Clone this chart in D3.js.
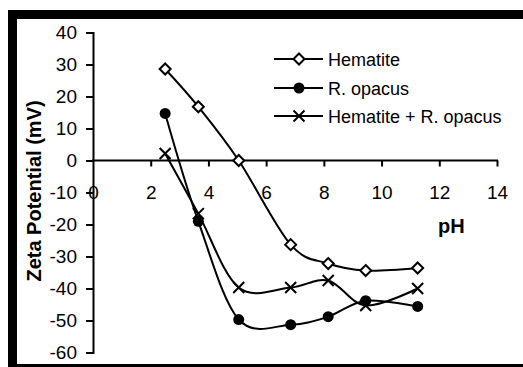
<!DOCTYPE html>
<html>
<head>
<meta charset="utf-8">
<script src="https://d3js.org/d3.v7.min.js"></script>
<style>
body, html {
    margin: 0;
    padding: 0;
    background: #fff;
    font-family: "Liberation Sans", Arial, sans-serif;
}
.axis path, .axis line {
  stroke: #000;
  stroke-width: 2;
}
.axis text {
  font-size: 19px;
  fill: #000;
}
.series {
  fill: none;
  stroke: #000;
  stroke-width: 2;
}
</style>
</head>
<body>
<div id="chart"></div>
<script>

// pH values measured
var ph = [2.5, 3.65, 5.05, 6.85, 8.15, 9.45, 11.25];
// zeta potential (mV)
var hematite = [28.6, 16.8, 0, -26.3, -32.2, -34.4, -33.6];
var opacus = [14.7, -19, -49.7, -51.3, -48.8, -43.8, -45.6];
var mixture = [2.2, -16.6, -39.7, -39.7, -37.5, -45.3, -40];
var seriesNames = ["Hematite", "R. opacus", "Hematite + R. opacus"];
var xTicks = [0, 2, 4, 6, 8, 10, 12, 14];
var yTicks = [40, 30, 20, 10, 0, -10, -20, -30, -40, -50, -60];

var width = 523,
    height = 367;

var svg = d3.select('#chart').append('svg')
  .attr('width', width)
  .attr('height', height);

// black frame (right side is cut off in the original)
svg.append('rect').attr('x', 8).attr('y', 10).attr('width', 530).attr('height', 9).attr('fill', '#000');
svg.append('rect').attr('x', 8).attr('y', 10).attr('width', 9).attr('height', 360).attr('fill', '#000');
svg.append('rect').attr('x', 8).attr('y', 364).attr('width', 530).attr('height', 10).attr('fill', '#000');

var x = d3.scaleLinear().domain([0, 14]).range([93, 497]);
var y = d3.scaleLinear().domain([-60, 40]).range([352.5, 32.5]);

var fmt = function (d) { return String(d); };   // plain hyphen minus like the original

// y axis
var yAxis = svg.append('g')
  .attr('class', 'axis')
  .attr('transform', 'translate(' + x(0) + ',0)')
  .call(d3.axisLeft(y).tickValues(yTicks).tickFormat(fmt).tickSize(7).tickPadding(9).tickSizeOuter(0));

// x axis through zero
var xAxis = svg.append('g')
  .attr('class', 'axis')
  .attr('transform', 'translate(0,' + y(0) + ')')
  .call(d3.axisBottom(x).tickValues(xTicks).tickFormat(fmt).tickSize(6).tickPadding(19).tickSizeOuter(0));
xAxis.selectAll('.tick').filter(function (d) { return d === 0; }).select('line').remove();
xAxis.selectAll('.domain').attr('d', 'M' + x(0) + ',0H' + x(14));

svg.selectAll('.axis .domain').attr('stroke-linecap', 'square');

// axis titles
svg.append('text')
  .attr('transform', 'translate(41,' + 191 + ') rotate(-90)')
  .attr('text-anchor', 'middle')
  .style('font-size', '20px')
  .style('font-weight', 'bold')
  .text('Zeta Potential (mV)');

svg.append('text')
  .attr('x', 438)
  .attr('y', 233)
  .style('font-size', '20px')
  .style('font-weight', 'bold')
  .text('pH');

var line = d3.line()
  .x(function (d) { return x(d[0]); })
  .y(function (d) { return y(d[1]); })
  .curve(d3.curveCardinal.tension(0));

function pts(vals) {
  return ph.map(function (p, i) { return [p, vals[i]]; });
}

var data = [pts(hematite), pts(opacus), pts(mixture)];

function marker(g, kind, cx, cy) {
  if (kind === 0) {
    var s = 5.5;
    g.append('path')
      .attr('d', 'M' + cx + ',' + (cy - s) + 'L' + (cx + s) + ',' + cy + 'L' + cx + ',' + (cy + s) + 'L' + (cx - s) + ',' + cy + 'Z')
      .attr('fill', '#fff').attr('stroke', '#000').attr('stroke-width', 2);
  } else if (kind === 1) {
    g.append('circle').attr('cx', cx).attr('cy', cy).attr('r', 5.5).attr('fill', '#000');
  } else {
    var h = 5.5;
    g.append('path')
      .attr('d', 'M' + (cx - h) + ',' + (cy - h) + 'L' + (cx + h) + ',' + (cy + h) + 'M' + (cx - h) + ',' + (cy + h) + 'L' + (cx + h) + ',' + (cy - h))
      .attr('stroke', '#000').attr('stroke-width', 2);
  }
}

data.forEach(function (d, k) {
  svg.append('path').datum(d).attr('class', 'series').attr('d', line);
  var g = svg.append('g');
  d.forEach(function (p) { marker(g, k, x(p[0]), y(p[1])); });
});

// legend
var legendY = [59, 88, 116];
seriesNames.forEach(function (name, k) {
  var g = svg.append('g');
  g.append('line')
    .attr('x1', 274).attr('x2', 323)
    .attr('y1', legendY[k]).attr('y2', legendY[k])
    .attr('stroke', '#000').attr('stroke-width', 2);
  marker(g, k, 299, legendY[k]);
  g.append('text')
    .attr('x', 328)
    .attr('y', legendY[k] + 6.5)
    .style('font-size', '18px')
    .text(name);
});

</script>
</body>
</html>
